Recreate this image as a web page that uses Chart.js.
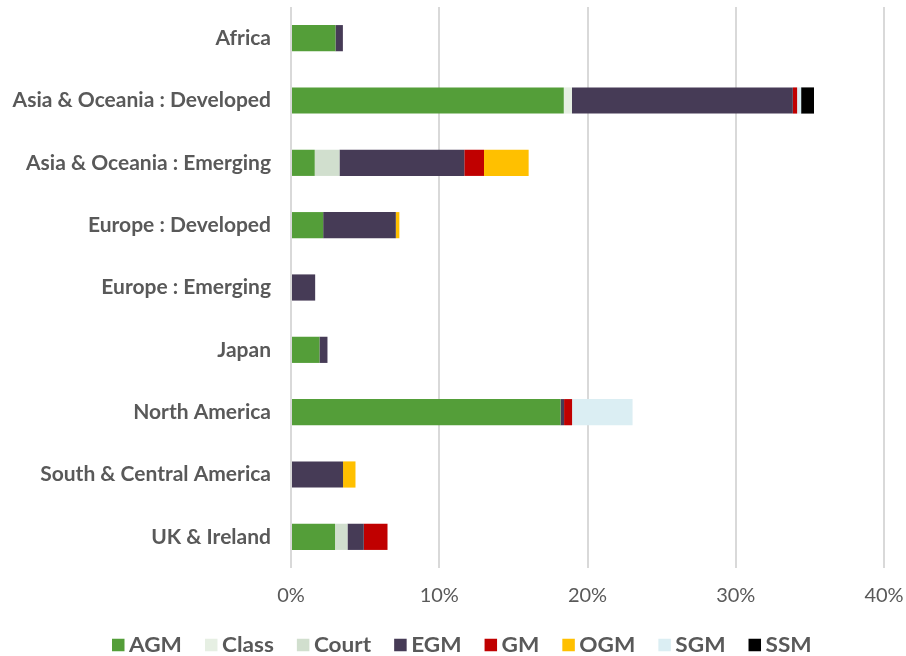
<!DOCTYPE html>
<html>
<head>
<meta charset="utf-8">
<script src="https://cdn.jsdelivr.net/npm/chart.js@4.4.1/dist/chart.umd.min.js"></script>
<style>
html,body{margin:0;padding:0;background:#fff;}
#wrap{width:906px;height:656px;position:relative;}
</style>
</head>
<body>
<div id="wrap"><canvas id="c" width="906" height="656"></canvas></div>
<script>
const categories = ["Africa","Asia & Oceania : Developed","Asia & Oceania : Emerging","Europe : Developed","Europe : Emerging","Japan","North America","South & Central America","UK & Ireland"];
const AGM   = [3.0, 18.4, 1.6, 2.17, 0,    1.92, 18.18, 0,    2.97];
const Class = [0,   0.55, 0,   0,    0,    0,    0,     0,    0];
const Court = [0,   0,    1.67,0,    0,    0,    0,     0,    0.84];
const EGM   = [0.5, 14.9, 8.42,4.9,  1.63, 0.54, 0.24,  3.51, 1.1];
const GM    = [0,   0.29, 1.33,0,    0,    0,    0.54,  0,    1.6];
const OGM   = [0,   0,    3.01,0.24, 0,    0,    0,     0.84, 0];
const SGM   = [0,   0.27, 0,   0,    0,    0,    4.08,  0,    0];
const SSM   = [0,   0.87, 0,   0,    0,    0,    0,     0,    0];
const xTicks = [0,10,20,30,40];

const seriesNames = ["AGM","Class","Court","EGM","GM","OGM","SGM","SSM"];
const seriesData = [AGM,Class,Court,EGM,GM,OGM,SGM,SSM];
const colors = ["#549E39","#E6EFE3","#D1DFCE","#463B56","#C00000","#FFC000","#DBEEF3","#000000"];

const datasets = seriesNames.map((n,i)=>({
  label:n, data:seriesData[i], backgroundColor:colors[i],
  borderWidth:0, barPercentage:0.42, categoryPercentage:1.0
}));

const legendFont = "bold 20px Lato";
const stretch = 1.13;
const customLegend = {
  id:'customLegend',
  afterDraw(chart){
    const ctx = chart.ctx;
    ctx.save();
    ctx.font = legendFont;
    ctx.textBaseline = 'middle';
    const box = 12.5, gapBT = 4.5, gapItem = 23;
    const items = chart.data.datasets.map(d=>({label:d.label,color:d.backgroundColor,w:ctx.measureText(d.label).width*stretch}));
    let x = 112;
    const y = 645;
    items.forEach(it=>{
      ctx.fillStyle = it.color;
      ctx.fillRect(x, y-box/2, box, box);
      ctx.fillStyle = '#595959';
      ctx.save();
      ctx.translate(x+box+gapBT, y+1);
      ctx.scale(stretch,1);
      ctx.fillText(it.label, 0, 0);
      ctx.restore();
      x += box+gapBT+it.w+gapItem;
    });
    ctx.restore();
  }
};

new Chart(document.getElementById('c'),{
  type:'bar',
  data:{labels:categories,datasets},
  plugins:[customLegend],
  options:{
    indexAxis:'y',
    responsive:false,
    animation:false,
    devicePixelRatio:1,
    layout:{padding:{top:7,right:22,left:12,bottom:48}},
    plugins:{
      legend:{display:false},
      tooltip:{enabled:false}
    },
    scales:{
      x:{stacked:true,min:0,max:40,
        afterBuildTicks:(ax)=>{ax.ticks = xTicks.map(v=>({value:v}));},
        afterFit:(s)=>{s.height = 40; s.paddingLeft = 0; s.paddingRight = 0;},
        ticks:{callback:v=>v+'%',font:{family:'Lato',size:20},color:'#595959',padding:16},
        grid:{color:'#D9D9D9',lineWidth:2,drawTicks:false},
        border:{display:false}
      },
      y:{stacked:true,
        afterFit:(s)=>{s.width = 279; s.paddingTop = 0; s.paddingBottom = 0;},
        ticks:{font:{family:'Lato',size:21,weight:'bold'},color:'#595959',padding:20},
        grid:{display:false,drawTicks:false},
        border:{display:false}
      }
    }
  }
});
</script>
</body>
</html>
